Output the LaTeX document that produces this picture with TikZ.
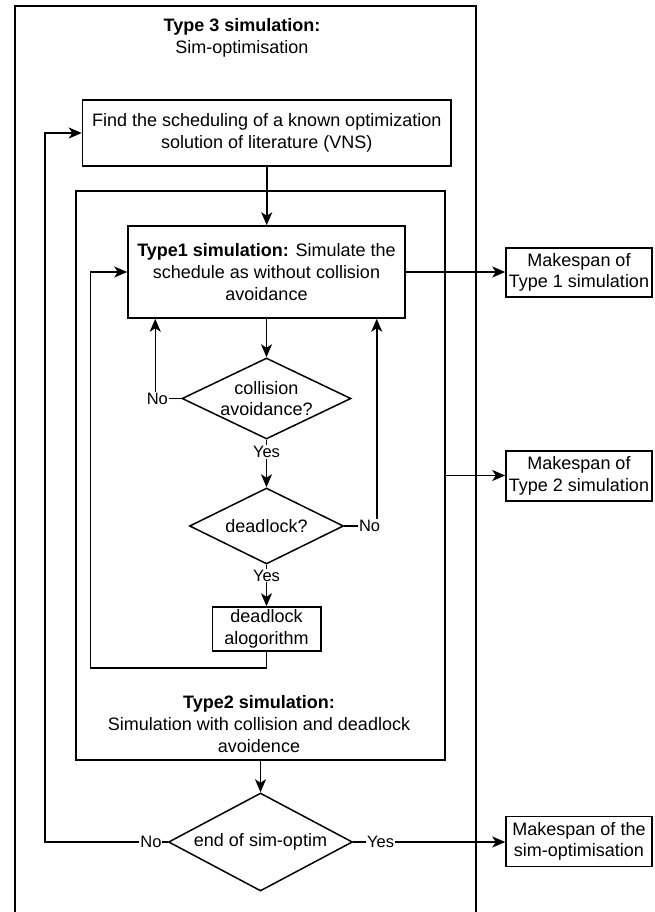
\documentclass[tikz,border=0pt]{standalone}
\usepackage{fontspec}
\setmainfont{Liberation Sans}
\usetikzlibrary{shapes.geometric,arrows.meta,calc}
\begin{document}
\begin{tikzpicture}[x=1pt,y=-1pt,
  every node/.style={font=\fontsize{18}{21.6}\selectfont},
  box/.style={draw, line width=1.5pt, rectangle, inner sep=0pt, align=center, fill=white},
  dia/.style={draw, line width=1.5pt, diamond, inner sep=0pt, fill=white},
  lbl/.style={font=\fontsize{16.5}{19}\selectfont, fill=white, inner sep=1pt},
  arr/.style={line width=1.5pt, -{Stealth[length=13pt,width=11pt,inset=3.5pt]}},
  ln/.style={line width=1.5pt}]
\fill[white] (0,0) rectangle (654,912);
\useasboundingbox (0,0) rectangle (654,912);
% containers
\node[box, minimum width=461pt, minimum height=912pt] (outer) at (245.5,462) {};
\node[align=center] (title) at (242,38) {\textbf{Type 3 simulation:}\\Sim-optimisation};
\node[box, minimum width=368.5pt, minimum height=66pt] (find) at (266.75,133)
  {Find the scheduling of a known optimization\\solution of literature (VNS)};
\node[box, minimum width=369pt, minimum height=569pt] (inner) at (260.5,475.5) {};
\node[align=center] (t2lbl) at (259,724)
  {\textbf{Type2 simulation:}\\Simulation with collision and deadlock\\avoidence};
% inner flow
\node[box, minimum width=277pt, minimum height=92pt] (t1) at (266.5,272)
  {\textbf{Type1 simulation:} Simulate the\\schedule as without collision\\avoidance};
\node[dia, minimum width=169pt, minimum height=81pt,
  label={[align=center]center:{collision\\avoidance?}}] (coll) at (266.5,398.5) {};
\node[dia, minimum width=154pt, minimum height=76pt,
  label={center:{deadlock?}}] (dead) at (266.5,526) {};
\node[box, minimum width=108.5pt, minimum height=44pt] (alg) at (266.5,629)
  {deadlock\\alogorithm};
\node[dia, minimum width=184pt, minimum height=98pt,
  label={center:{end of sim-optim}}] (endd) at (260.5,842) {};
% outputs
\node[box, minimum width=146pt, minimum height=49pt] (m1) at (579,272.5)
  {Makespan of\\Type 1 simulation};
\node[box, minimum width=146pt, minimum height=50pt] (m2) at (579,476)
  {Makespan of\\Type 2 simulation};
\node[box, minimum width=146pt, minimum height=50pt] (m3) at (579,841.5)
  {Makespan of the\\sim-optimisation};
\coordinate (lp) at (45,842);
% connectors
\draw[arr] (find.south) -- (find.south |- t1.north);
\draw[arr] (t1.east) -- (t1.east -| m1.west);
\draw[arr] (t1.south) -- (coll.north);
\draw[arr] (coll.west) -| node[lbl,pos=0.46]{No} ($(t1.south west)+(28,0)$);
\draw[arr] (coll.south) -- node[lbl,pos=0.26]{Yes} (dead.north);
\draw[arr] (dead.east) -| node[lbl,pos=0.39]{No} ($(t1.south east)+(-29,0)$);
\draw[arr] (dead.south) -- node[lbl,pos=0.26]{Yes} (alg.north);
\draw[arr] (alg.south) -- ++(0,16) -| ([xshift=-37pt]t1.west) -- (t1.west);
\draw[arr] (inner.east) -- (inner.east -| m2.west);
\draw[arr] (inner.south) -- (endd.north);
\draw[arr] (endd.west) -- node[lbl,pos=0.137]{No} (lp) |- (find.west);
\draw[arr] (endd.east) -- node[lbl,pos=0.18]{Yes} (endd.east -| m3.west);
\end{tikzpicture}
\end{document}
